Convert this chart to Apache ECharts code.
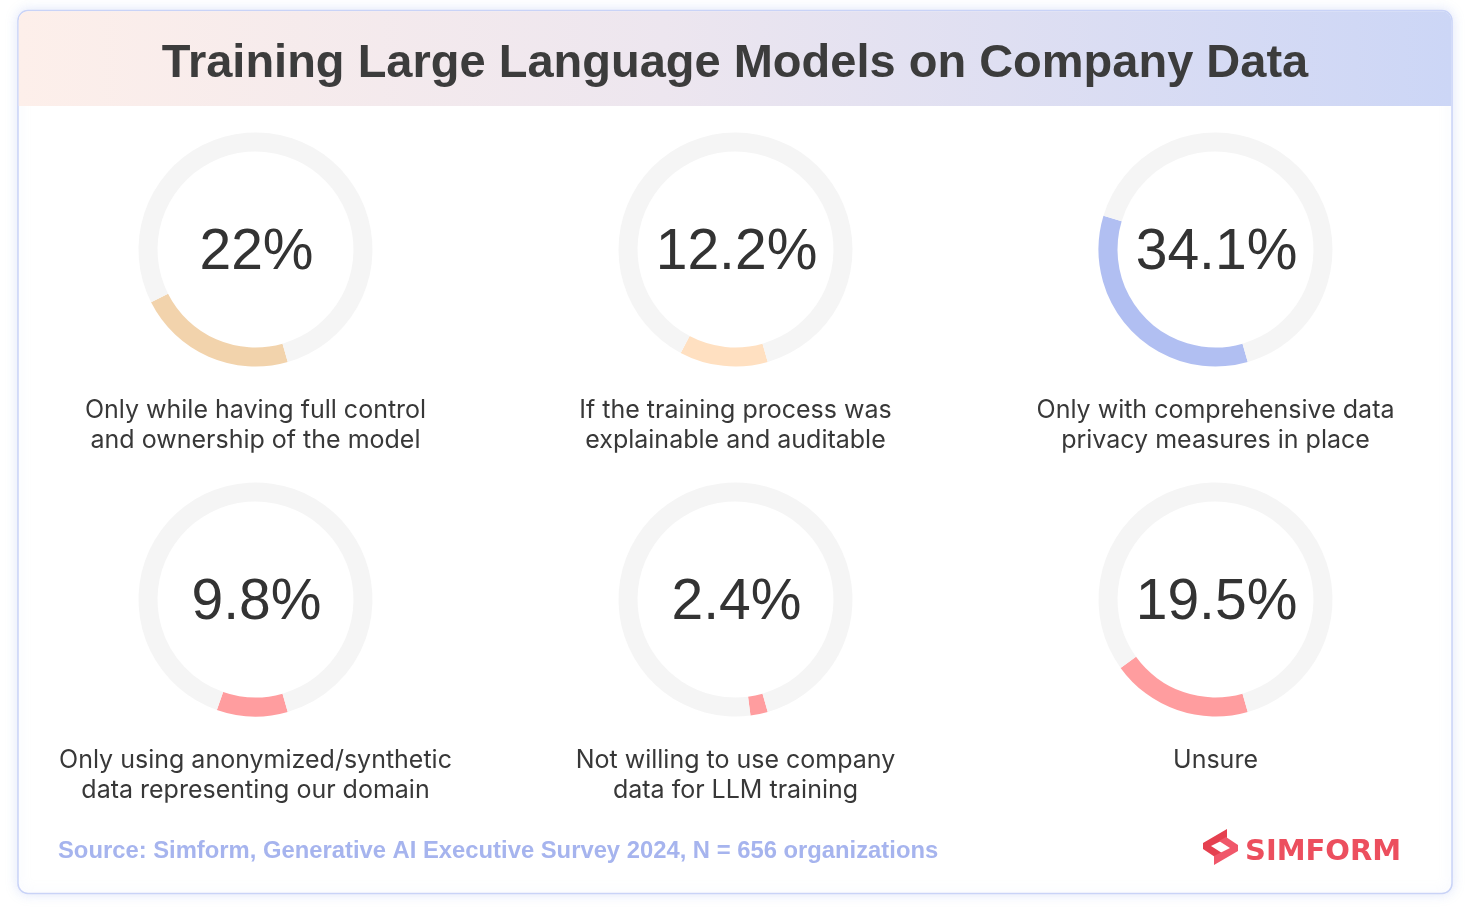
<!DOCTYPE html>
<html>
<head>
<meta charset="utf-8">
<script src="https://cdn.jsdelivr.net/npm/echarts@6/dist/echarts.min.js"></script>
<style>
html,body{margin:0;padding:0;background:#fff;}
#chart{width:1469px;height:919px;}
</style>
</head>
<body>
<div id="chart"></div>
<script>
// ---- data ----
const titleText = 'Training Large Language Models on Company Data';
const categories = [
  'Only while having full control\nand ownership of the model',
  'If the training process was\nexplainable and auditable',
  'Only with comprehensive data\nprivacy measures in place',
  'Only using anonymized/synthetic\ndata representing our domain',
  'Not willing to use company\ndata for LLM training',
  'Unsure'
];
const values = [22, 12.2, 34.1, 9.8, 2.4, 19.5];
const valueLabels = ['22%', '12.2%', '34.1%', '9.8%', '2.4%', '19.5%'];
const sourceText = 'Source: Simform, Generative AI Executive Survey 2024, N = 656 organizations';
const brandText = 'SIMFORM';

// ---- styling / layout ----
const arcColors = ['#f2d3ac', '#ffe0c1', '#b1bff2', '#ff9d9f', '#ff9d9f', '#ff9d9f'];
const trackColor = '#f5f5f5';
const colX = [255.5, 735.5, 1215.5];
const rowY = [249.5, 599.5];
const FONT = '"Liberation Sans", Arial, Helvetica, sans-serif';
const LABEL_FONT = 'Inter, "Liberation Sans", Arial, sans-serif';

const chart = echarts.init(document.getElementById('chart'), null, {renderer: 'canvas'});

const series = [];
const graphics = [];

// card
graphics.push({
  type: 'rect', z: 0,
  shape: {x: 18, y: 10.5, width: 1434, height: 883, r: 10},
  style: {fill: '#ffffff', stroke: '#c9d3f7', lineWidth: 1.5,
          shadowBlur: 12, shadowColor: 'rgba(170,185,240,0.35)'}
});
// header band
graphics.push({
  type: 'rect', z: 1,
  shape: {x: 18.75, y: 11.25, width: 1432.5, height: 94.75, r: [9, 9, 0, 0]},
  style: {
    fill: new echarts.graphic.LinearGradient(0, 0, 1, 0, [
      {offset: 0, color: '#fdefea'},
      {offset: 0.45, color: '#ede6ef'},
      {offset: 1, color: '#ccd6f6'}
    ])
  }
});
graphics.push({
  type: 'text', z: 2,
  style: {x: 735, y: 64, text: titleText, fill: '#3c3c3c',
          font: 'bold 47px ' + FONT, textAlign: 'center', textVerticalAlign: 'middle'}
});

values.forEach((v, i) => {
  const cx = colX[i % 3];
  const cy = rowY[Math.floor(i / 3)];
  series.push({
    type: 'pie',
    center: [cx, cy],
    radius: [98, 117],
    startAngle: -74,
    clockwise: true,
    silent: true,
    animation: false,
    label: {show: false},
    labelLine: {show: false},
    emphasis: {disabled: true},
    itemStyle: {borderWidth: 0},
    data: [
      {value: v, itemStyle: {color: arcColors[i]}},
      {value: 100 - v, itemStyle: {color: trackColor}}
    ]
  });
  graphics.push({
    type: 'text', z: 5,
    style: {x: cx + 1, y: cy + 4, text: valueLabels[i], fill: '#333333',
            font: '57px ' + FONT, textAlign: 'center', textVerticalAlign: 'middle'}
  });
  graphics.push({
    type: 'text', z: 5,
    style: {x: cx, y: cy + 146, text: categories[i], fill: '#383838',
            font: '25px ' + LABEL_FONT, textAlign: 'center', textVerticalAlign: 'top',
            lineHeight: 30}
  });
});

// source
graphics.push({
  type: 'text', z: 5,
  style: {x: 58, y: 851, text: sourceText, fill: '#a6b4ee',
          font: 'bold 23.8px ' + FONT, textAlign: 'left', textVerticalAlign: 'middle'}
});

// logo icon
graphics.push({
  type: 'polygon', z: 5,
  shape: {points: [[1227,829],[1203,843],[1203,849],[1215,857],[1222,853],[1211,846],[1227,838]]},
  style: {fill: '#e5404f'}
});
graphics.push({
  type: 'polygon', z: 5,
  shape: {points: [[1214,865],[1238,851],[1238,845],[1226,837],[1219,841],[1230,848],[1214,856]]},
  style: {fill: '#f0576a'}
});
graphics.push({
  type: 'text', z: 5,
  style: {x: 1245, y: 852, text: brandText, fill: '#ec4f5e',
          font: 'bold 29px "DejaVu Sans", sans-serif', textAlign: 'left', textVerticalAlign: 'middle'}
});

chart.setOption({
  animation: false,
  series: series,
  graphic: graphics
});
</script>
</body>
</html>
